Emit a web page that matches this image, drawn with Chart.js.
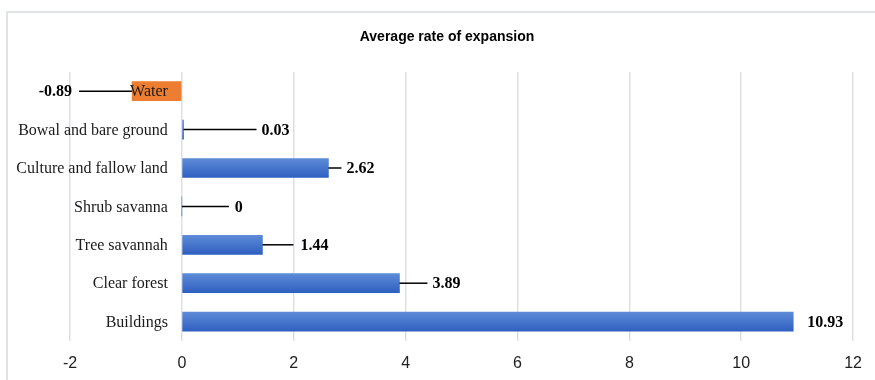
<!DOCTYPE html>
<html><head><meta charset="utf-8">
<script src="https://cdn.jsdelivr.net/npm/chart.js@4.4.0/dist/chart.umd.min.js"></script>
<style>html,body{margin:0;padding:0;background:#fff}canvas{display:block}</style>
</head><body>
<canvas id="c" width="875" height="380"></canvas>
<script>
const titleText = 'Average rate of expansion';
const categories = ['Water', 'Bowal and bare ground', 'Culture and fallow land', 'Shrub savanna', 'Tree savannah', 'Clear forest', 'Buildings'];
const values = [-0.89, 0.03, 2.62, 0, 1.44, 3.89, 10.93];
const valueLabels = ['-0.89', '0.03', '2.62', '0', '1.44', '3.89', '10.93'];
const xTicks = [-2, 0, 2, 4, 6, 8, 10, 12];

// leader line length and gap from bar end (pixels), per bar
const leader = [[53, 7], [73, 5], [13, 5], [47, 6], [31, 7], [28, 5], [0, 14]];

const BAR_T = 19;

const decorPlugin = {
  id: 'decor',
  beforeDraw(chart) {
    const c = chart.ctx;
    c.save();
    c.strokeStyle = '#dfe3e8';
    c.lineWidth = 2;
    c.strokeRect(7, 12, 2000, 2000);
    c.font = 'bold 14px "Liberation Sans", Arial, sans-serif';
    c.fillStyle = '#000';
    c.textAlign = 'center';
    c.textBaseline = 'middle';
    c.fillText(titleText, 447, 37);
    c.restore();
  },
  afterDatasetsDraw(chart) {
    const c = chart.ctx;
    const xs = chart.scales.x, ys = chart.scales.y;
    const x0 = xs.getPixelForValue(0);
    c.save();
    c.font = '16px "Liberation Serif", "Times New Roman", serif';
    c.fillStyle = '#1a1a1a';
    c.textAlign = 'right';
    c.textBaseline = 'middle';
    categories.forEach((cat, i) => {
      c.fillText(cat, x0 - 14, ys.getPixelForValue(i) + 1);
    });
    c.font = 'bold 16px "Liberation Serif", "Times New Roman", serif';
    c.fillStyle = '#000';
    c.strokeStyle = '#000';
    c.lineWidth = 1.5;
    values.forEach((v, i) => {
      const y = ys.getPixelForValue(i);
      const xe = xs.getPixelForValue(v);
      const dir = v < 0 ? -1 : 1;
      const [len, gap] = leader[i];
      if (len > 0) {
        c.beginPath();
        c.moveTo(xe, y);
        c.lineTo(xe + dir * len, y);
        c.stroke();
      }
      c.textAlign = dir < 0 ? 'right' : 'left';
      c.fillText(valueLabels[i], xe + dir * (len + gap), y + 1);
    });
    c.restore();
  }
};

new Chart(document.getElementById('c'), {
  type: 'bar',
  data: {
    labels: categories,
    datasets: [{
      data: values,
      barThickness: BAR_T,
      borderWidth: 0,
      backgroundColor: (ctx) => {
        if (ctx.type !== 'data') return '#4472C4';
        const v = values[ctx.dataIndex];
        if (v < 0) return '#ED7D31';
        const chart = ctx.chart;
        const ys = chart.scales && chart.scales.y;
        if (!ys || !chart.chartArea) return '#4472C4';
        const yc = ys.getPixelForValue(ctx.dataIndex);
        const g = chart.ctx.createLinearGradient(0, yc - BAR_T / 2, 0, yc + BAR_T / 2);
        g.addColorStop(0, '#5d8bd8');
        g.addColorStop(1, '#2f5fc0');
        return g;
      }
    }]
  },
  options: {
    indexAxis: 'y',
    responsive: false,
    animation: false,
    layout: { padding: { left: 62, right: 13, bottom: -6, top: 72 } },
    plugins: {
      legend: { display: false },
      tooltip: { enabled: false },
      title: { display: false }
    },
    scales: {
      x: {
        min: xTicks[0],
        max: xTicks[xTicks.length - 1],
        ticks: {
          stepSize: xTicks[1] - xTicks[0],
          color: '#222',
          padding: 13,
          font: { family: '"Liberation Sans", Arial, sans-serif', size: 16 }
        },
        grid: { color: '#dce0e6', lineWidth: 1.5, drawTicks: false },
        border: { display: false }
      },
      y: {
        ticks: { display: false },
        grid: { display: false },
        border: { display: false }
      }
    }
  },
  plugins: [decorPlugin]
});
</script>
</body></html>
